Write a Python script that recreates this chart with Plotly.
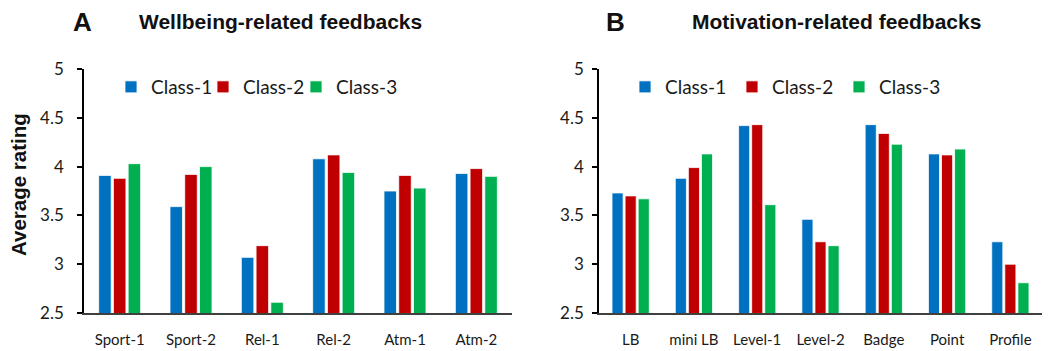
import plotly.graph_objects as go

# Survey ratings per feedback type, one list per class
wellbeing_items = ["Sport-1", "Sport-2", "Rel-1", "Rel-2", "Atm-1", "Atm-2"]
wellbeing_class1 = [3.91, 3.59, 3.07, 4.08, 3.75, 3.93]
wellbeing_class2 = [3.88, 3.92, 3.19, 4.12, 3.91, 3.98]
wellbeing_class3 = [4.03, 4.00, 2.61, 3.94, 3.78, 3.90]

motivation_items = ["LB", "mini LB", "Level-1", "Level-2", "Badge", "Point", "Profile"]
motivation_class1 = [3.73, 3.88, 4.42, 3.46, 4.43, 4.13, 3.23]
motivation_class2 = [3.70, 3.99, 4.43, 3.23, 4.34, 4.12, 3.00]
motivation_class3 = [3.67, 4.13, 3.61, 3.19, 4.23, 4.18, 2.81]

class_names = ["Class-1", "Class-2", "Class-3"]
class_colors = ["#0070C0", "#C00000", "#00B050"]
y_ticks = [2.5, 3, 3.5, 4, 4.5, 5]
y_tick_text = ["2.5", "3", "3.5", "4", "4.5", "5"]

W, H = 1052, 351
LABEL_FONT = "Lato, 'Open Sans', sans-serif"
TITLE_FONT = "Arial, 'Liberation Sans', sans-serif"

# one single-entry legend per class and panel, so each key sits at its own spot
legend_ids = [["legend", "legend2", "legend3"], ["legend4", "legend5", "legend6"]]
legend_x_px = [[111, 203, 296], [625, 732, 839]]

fig = go.Figure()

panels = [
    ("x", "y", wellbeing_items, [wellbeing_class1, wellbeing_class2, wellbeing_class3]),
    ("x2", "y2", motivation_items, [motivation_class1, motivation_class2, motivation_class3]),
]
for p, (xa, ya, items, series) in enumerate(panels):
    for k, (name, color, vals) in enumerate(zip(class_names, class_colors, series)):
        fig.add_trace(go.Bar(
            x=items, y=vals, name=name, xaxis=xa, yaxis=ya, legend=legend_ids[p][k],
            marker=dict(color=color, line=dict(color="rgba(255,255,255,0.8)", width=1)),
        ))

y_dom = [1 - 313 / H, 1 - 69 / H]
x1_dom = [84 / W, 512 / W]
x2_dom = [599 / W, 1042 / W]

common_x = dict(
    showline=True, linecolor="#404040", linewidth=1.5, ticks="",
    showgrid=False, zeroline=False, automargin=False,
    tickfont=dict(family=LABEL_FONT, size=15, color="#1a1a1a"),
    ticklabelstandoff=12,
)
common_y = dict(
    range=[2.5, 5], tickvals=y_ticks, ticktext=y_tick_text,
    showline=True, linecolor="#000000", linewidth=1.5,
    ticks="outside", ticklen=5, tickwidth=1.5, tickcolor="#000000",
    showgrid=False, zeroline=False, automargin=False,
    tickfont=dict(family=LABEL_FONT, size=17, color="#1a1a1a"),
)
# overlay axes draw the inner half of the crossing ticks
inner_y = dict(
    range=[2.5, 5], tickvals=y_ticks, showticklabels=False,
    showline=False, ticks="inside", ticklen=6, tickwidth=1.5, tickcolor="#000000",
    showgrid=False, zeroline=False, automargin=False,
)

legend_common = dict(
    orientation="h", yanchor="middle", y=1 - 87 / H, xanchor="left",
    font=dict(family=LABEL_FONT, size=19, color="#1a1a1a"),
    itemwidth=30, bgcolor="rgba(0,0,0,0)", borderwidth=0, itemclick=False,
)
legend_layout = {}
for p in range(2):
    for k in range(3):
        legend_layout[legend_ids[p][k]] = dict(x=legend_x_px[p][k] / W, **legend_common)

fig.update_layout(
    template="none",
    width=W, height=H,
    margin=dict(l=0, r=0, t=0, b=0, pad=0),
    paper_bgcolor="white", plot_bgcolor="white",
    barmode="group", bargap=0.38, bargroupgap=0.15,
    xaxis=dict(domain=x1_dom, anchor="y", **common_x),
    xaxis2=dict(domain=x2_dom, anchor="y2", **common_x),
    yaxis=dict(domain=y_dom, anchor="x", ticklabelstandoff=10, **common_y),
    yaxis2=dict(domain=y_dom, anchor="x2", ticklabelstandoff=5, **common_y),
    yaxis3=dict(domain=y_dom, anchor="x", overlaying="y", **inner_y),
    yaxis4=dict(domain=y_dom, anchor="x2", overlaying="y2", **inner_y),
    showlegend=True,
    **legend_layout,
)

annotations = [
    dict(text="<b>A</b>", x=82 / W, y=1 - 22 / H, font=dict(family=TITLE_FONT, size=26)),
    dict(text="<b>Wellbeing-related feedbacks</b>", x=280 / W, y=1 - 22 / H,
         font=dict(family=TITLE_FONT, size=21)),
    dict(text="<b>B</b>", x=615 / W, y=1 - 22 / H, font=dict(family=TITLE_FONT, size=26)),
    dict(text="<b>Motivation-related feedbacks</b>", x=836 / W, y=1 - 22 / H,
         font=dict(family=TITLE_FONT, size=21)),
    dict(text="<b>Average rating</b>", x=18 / W, y=1 - 185 / H, textangle=-90,
         font=dict(family=TITLE_FONT, size=20.5)),
]
for a in annotations:
    a.update(xref="paper", yref="paper", showarrow=False, xanchor="center", yanchor="middle")
    a["font"]["color"] = "#111111"
fig.update_layout(annotations=annotations)

fig.write_html("out.html")
